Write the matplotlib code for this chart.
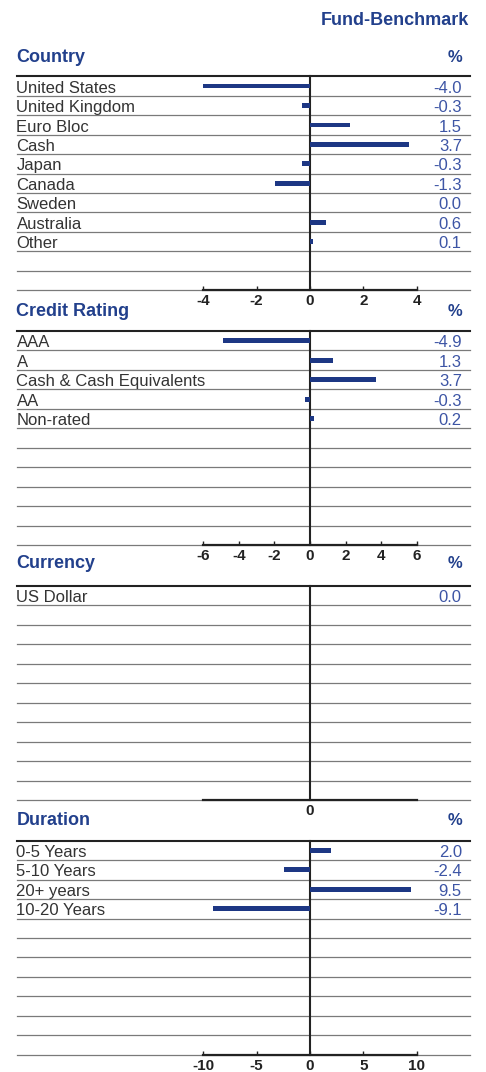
import matplotlib.pyplot as plt
from matplotlib import transforms

plt.rcParams['font.family'] = ['Liberation Sans', 'DejaVu Sans']
plt.rcParams['axes.unicode_minus'] = False

country = ["United States", "United Kingdom", "Euro Bloc", "Cash", "Japan",
           "Canada", "Sweden", "Australia", "Other"]
country_vals = [-4.0, -0.3, 1.5, 3.7, -0.3, -1.3, 0.0, 0.6, 0.1]

credit = ["AAA", "A", "Cash & Cash Equivalents", "AA", "Non-rated"]
credit_vals = [-4.9, 1.3, 3.7, -0.3, 0.2]

currency = ["US Dollar"]
currency_vals = [0.0]

duration = ["0-5 Years", "5-10 Years", "20+ years", "10-20 Years"]
duration_vals = [2.0, -2.4, 9.5, -9.1]

country_ticks = [-4, -2, 0, 2, 4]
credit_ticks = [-6, -4, -2, 0, 2, 4, 6]
currency_ticks = [0]
duration_ticks = [-10, -5, 0, 5, 10]

W, H = 486, 1072
TITLE_C = "#22408c"
VAL_C = "#3d55a5"
BAR_C = "#1d3784"
TXT_C = "#333333"
NROWS = 11

fig = plt.figure(figsize=(W / 100, H / 100), dpi=100)

fig.text(469 / W, 1 - 25 / H, "Fund-Benchmark", ha="right", va="baseline",
         fontsize=13, fontweight="bold", color=TITLE_C)

left_px, right_px, zero_px, half_px = 16.5, 470, 310, 106.67

sections = [
    ("Country", country, country_vals, country_ticks, 4, 76.3, 61.5),
    ("Credit Rating", credit, credit_vals, credit_ticks, 6, 331, 315.5),
    ("Currency", currency, currency_vals, currency_ticks, 6, 586, 567.5),
    ("Duration", duration, duration_vals, duration_ticks, 10, 840.7, 825),
]

for title, cats, vals, ticks, lim, top_px, base_px in sections:
    ax = fig.add_axes([left_px / W, 1 - (top_px + 214) / H,
                       (right_px - left_px) / W, 214 / H])
    ax.set_xlim((left_px - zero_px) / half_px * lim,
                (right_px - zero_px) / half_px * lim)
    ax.set_ylim(NROWS, 0)

    for y in range(1, NROWS + 1):
        ax.axhline(y, color="#7a7a7a", lw=0.9, zorder=1, clip_on=False)
    ax.axhline(0, color="#222222", lw=1.5, zorder=2, clip_on=False)
    ax.plot([0, 0], [0, NROWS], color="#222222", lw=1.5, zorder=3,
            clip_on=False)

    pos = [i + 0.5 for i in range(len(cats))]
    ax.barh(pos, vals, height=0.25, color=BAR_C, zorder=4)

    tr = transforms.blended_transform_factory(ax.transAxes, ax.transData)
    for i, (c, v) in enumerate(zip(cats, vals)):
        ax.text(0.0, i + 0.84, c, transform=tr, ha="left", va="baseline",
                fontsize=12, color=TXT_C)
        ax.text(0.982, i + 0.84, f"{v:.1f}", transform=tr, ha="right",
                va="baseline", fontsize=12, color=VAL_C)

    for s in ["top", "left", "right"]:
        ax.spines[s].set_visible(False)
    ax.spines["bottom"].set_bounds(-lim, lim)
    ax.spines["bottom"].set_color("#222222")
    ax.spines["bottom"].set_linewidth(1.6)
    ax.spines["bottom"].set_zorder(5)
    ax.set_yticks([])
    ax.set_xticks(ticks)
    ax.tick_params(axis="x", direction="in", length=3, width=1,
                   color="#222222", labelsize=11, labelcolor="#222222", pad=3)
    for lab in ax.get_xticklabels():
        lab.set_fontweight("bold")
    if len(ticks) == 1:
        ax.tick_params(axis="x", length=0)
    ax.set_facecolor("none")

    fig.text(left_px / W, 1 - base_px / H, title, ha="left", va="baseline",
             fontsize=13, fontweight="bold", color=TITLE_C)
    fig.text(462 / W, 1 - base_px / H, "%", ha="right", va="baseline",
             fontsize=12, fontweight="bold", color=TITLE_C)

fig.savefig("out.png", dpi=100)
